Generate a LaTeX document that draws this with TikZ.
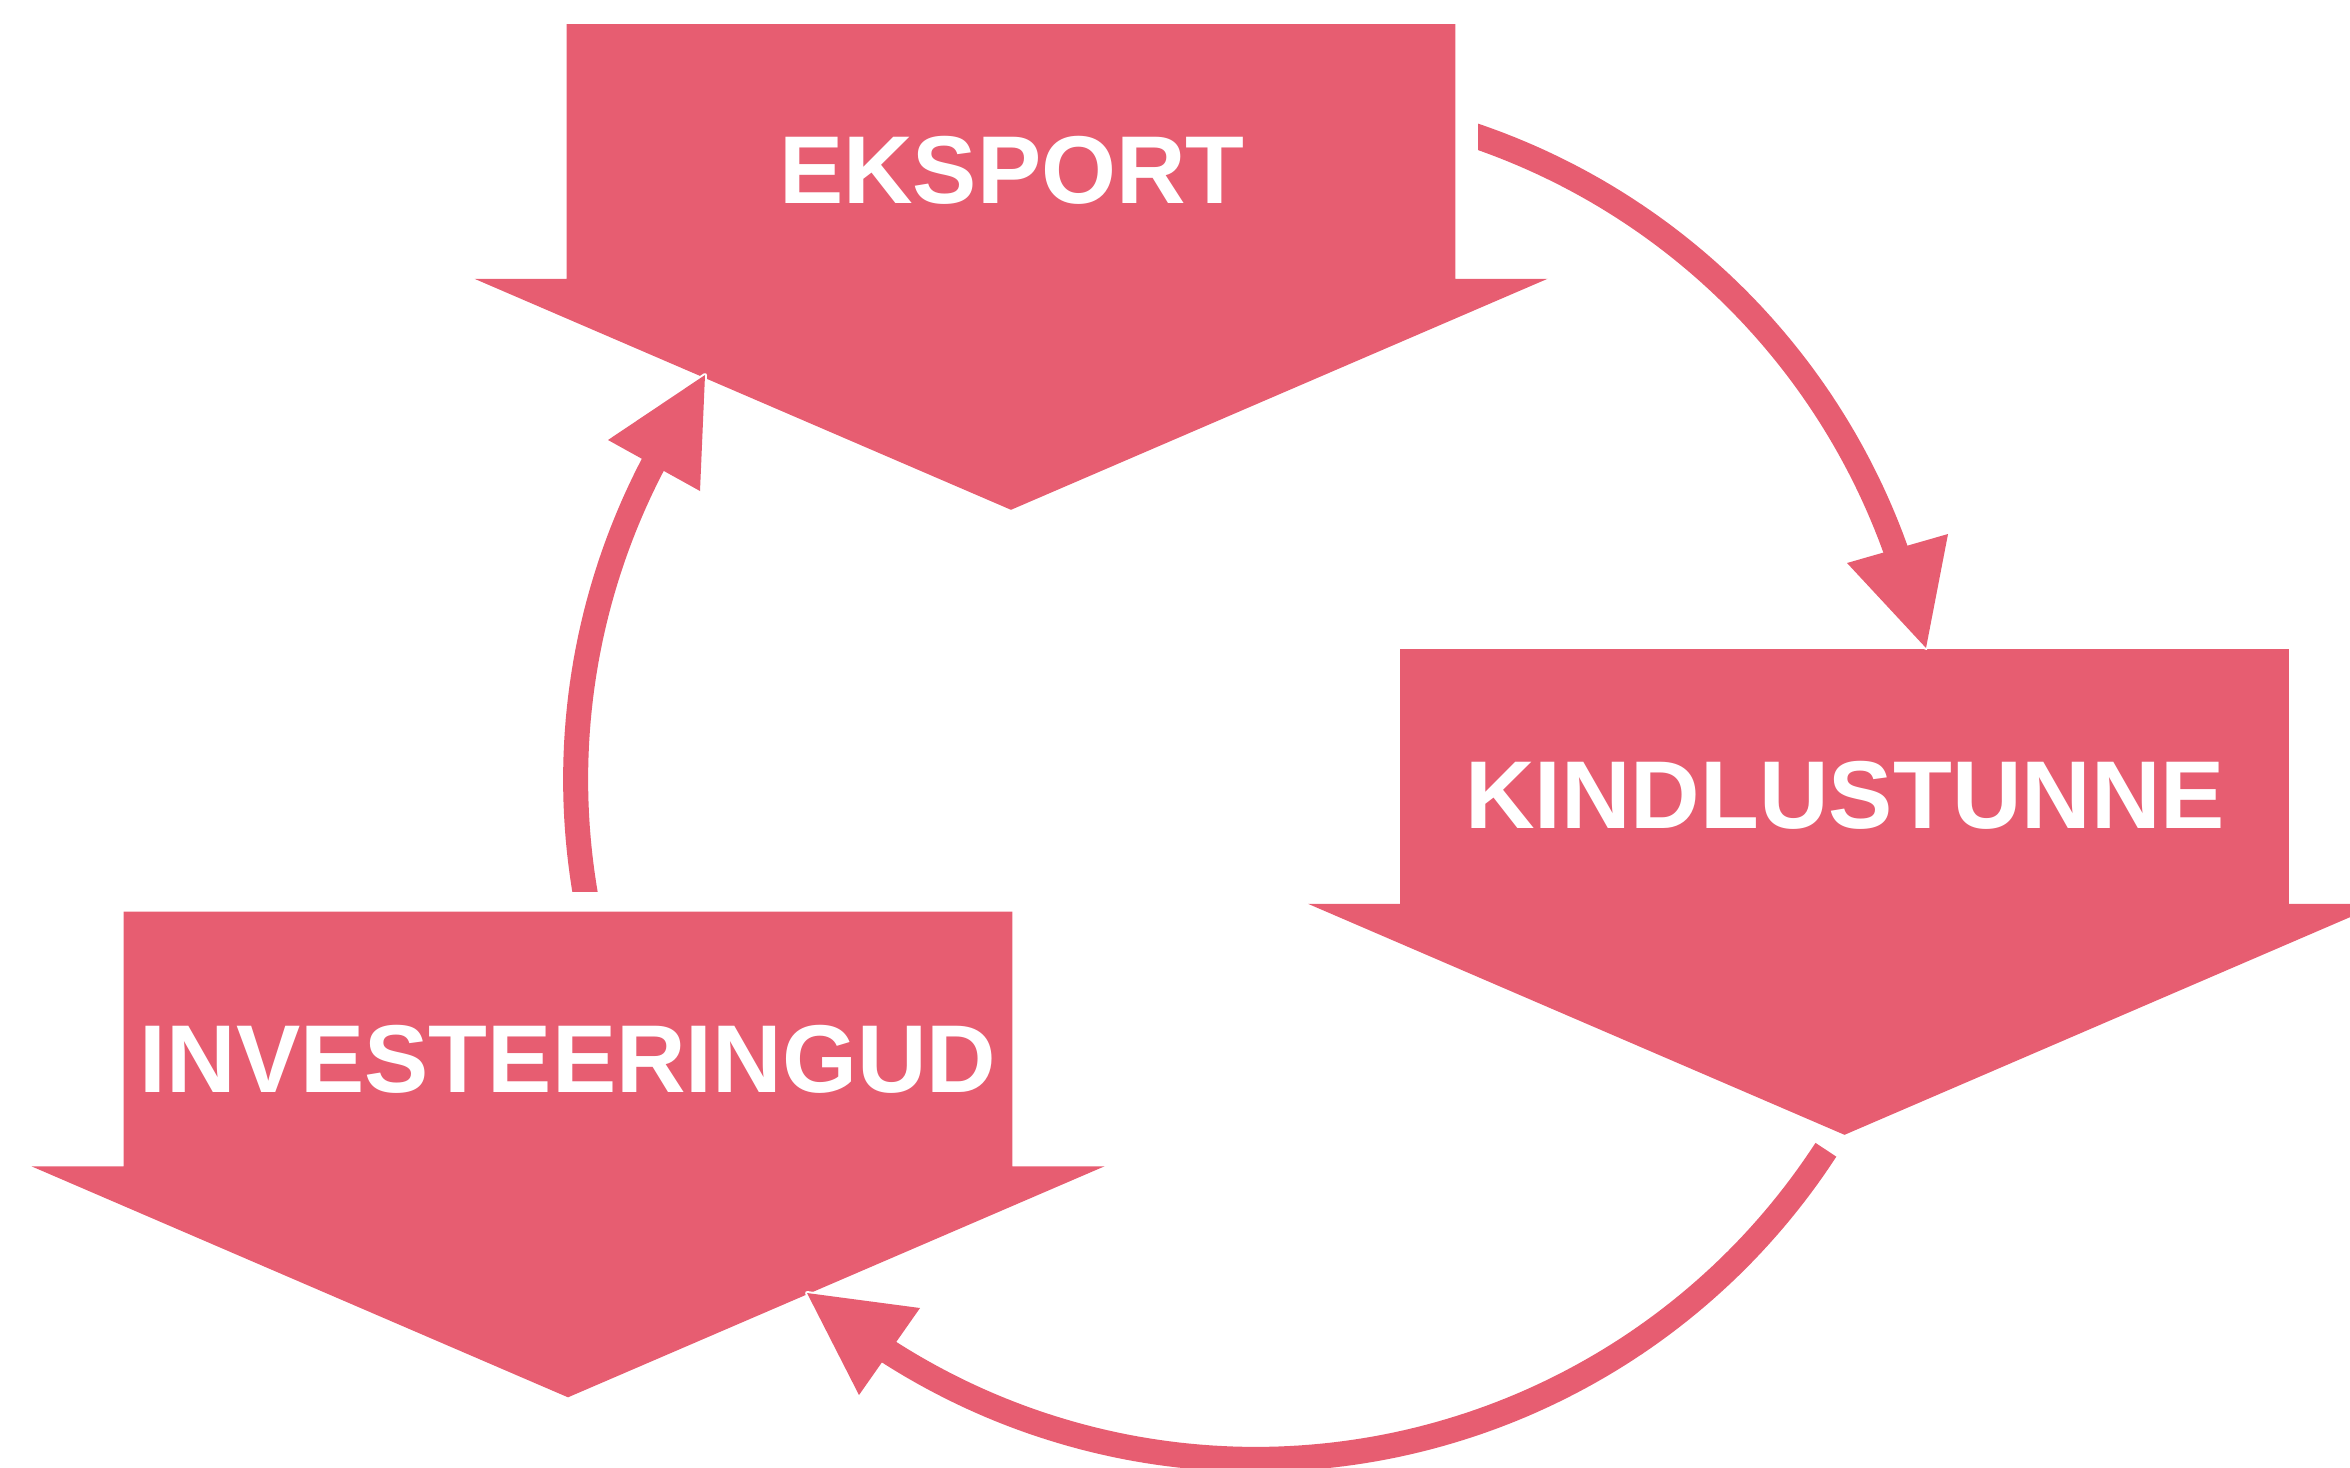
\documentclass[tikz,border=0pt]{standalone}
\usepackage{fontspec}
\setmainfont{Liberation Sans}
\definecolor{rosa}{HTML}{E75D71}
\newcommand\dshape[3]{%
  \fill[rosa] ({#1-444.4},{#2}) -- ({#1+444.4},{#2}) -- ({#1+444.4},{#2+254.8})
    -- ({#1+536.5},{#2+254.8}) -- ({#1},{#2+485.8}) -- ({#1-536.5},{#2+254.8})
    -- ({#1-444.4},{#2+254.8}) -- cycle;
  \coordinate (#3) at ({#1},{#2+242.9});}
\newcommand\ringarc[2]{plot[domain=#1:#2,samples=100] ({1255.6+680*cos(\x)},{779.4+680*sin(\x)})}
\begin{document}
\begin{tikzpicture}[x=0.3pt,y=-0.3pt,
  lbl/.style={text=white,font=\fontsize{28.9}{31}\selectfont\bfseries,inner sep=0pt,anchor=base},
  arcline/.style={draw=rosa,line width=7.5pt},
  arcedge/.style={draw=white,line width=8.7pt},
  head/.style={fill=rosa},
  headedge/.style={fill=white,draw=white,line width=1.2pt,line join=round}]
\useasboundingbox (0,0) rectangle (2350,1467);
\clip (0,0) rectangle (2350,1467);
% big down-arrow shapes
\dshape{1011}{24}{sE}
\dshape{1844.5}{649}{sK}
\dshape{568}{911.5}{sI}
% labels
\node[lbl] (eksport) at (1012,203.8) {EKSPORT};
\node[lbl] (kindlus) at (1845,828.8) {KINDLUSTUNNE};
\node[lbl] (invest) at (568,1092.5) {INVESTEERINGUD};
% white edge layer of the circular connectors
\begin{scope}
  \clip (1478,0) rectangle (2350,1467);
  \draw[arcedge] \ringarc{-73}{-17};
\end{scope}
\draw[arcedge] \ringarc{33}{124};
\begin{scope}
  \clip (0,0) rectangle (2350,891);
  \draw[arcedge] \ringarc{168}{209};
\end{scope}
\filldraw[headedge] (1847,563) -- (1948,534) -- (1926,648) -- cycle;
\filldraw[headedge] (807,1293) -- (920,1308) -- (859,1395) -- cycle;
\filldraw[headedge] (608,440) -- (700,491) -- (705,375) -- cycle;
% circular connectors
\begin{scope}
  \clip (1478,0) rectangle (2350,1467);
  \draw[arcline] \ringarc{-73}{-17};
\end{scope}
\draw[arcline] \ringarc{33}{124};
\begin{scope}
  \clip (0,0) rectangle (2350,891);
  \draw[arcline] \ringarc{168}{209};
\end{scope}
% arrowheads
\fill[head] (1847,563) -- (1948,534) -- (1926,648) -- cycle;
\fill[head] (807,1293) -- (920,1308) -- (859,1395) -- cycle;
\fill[head] (608,440) -- (700,491) -- (705,375) -- cycle;
\end{tikzpicture}
\end{document}
